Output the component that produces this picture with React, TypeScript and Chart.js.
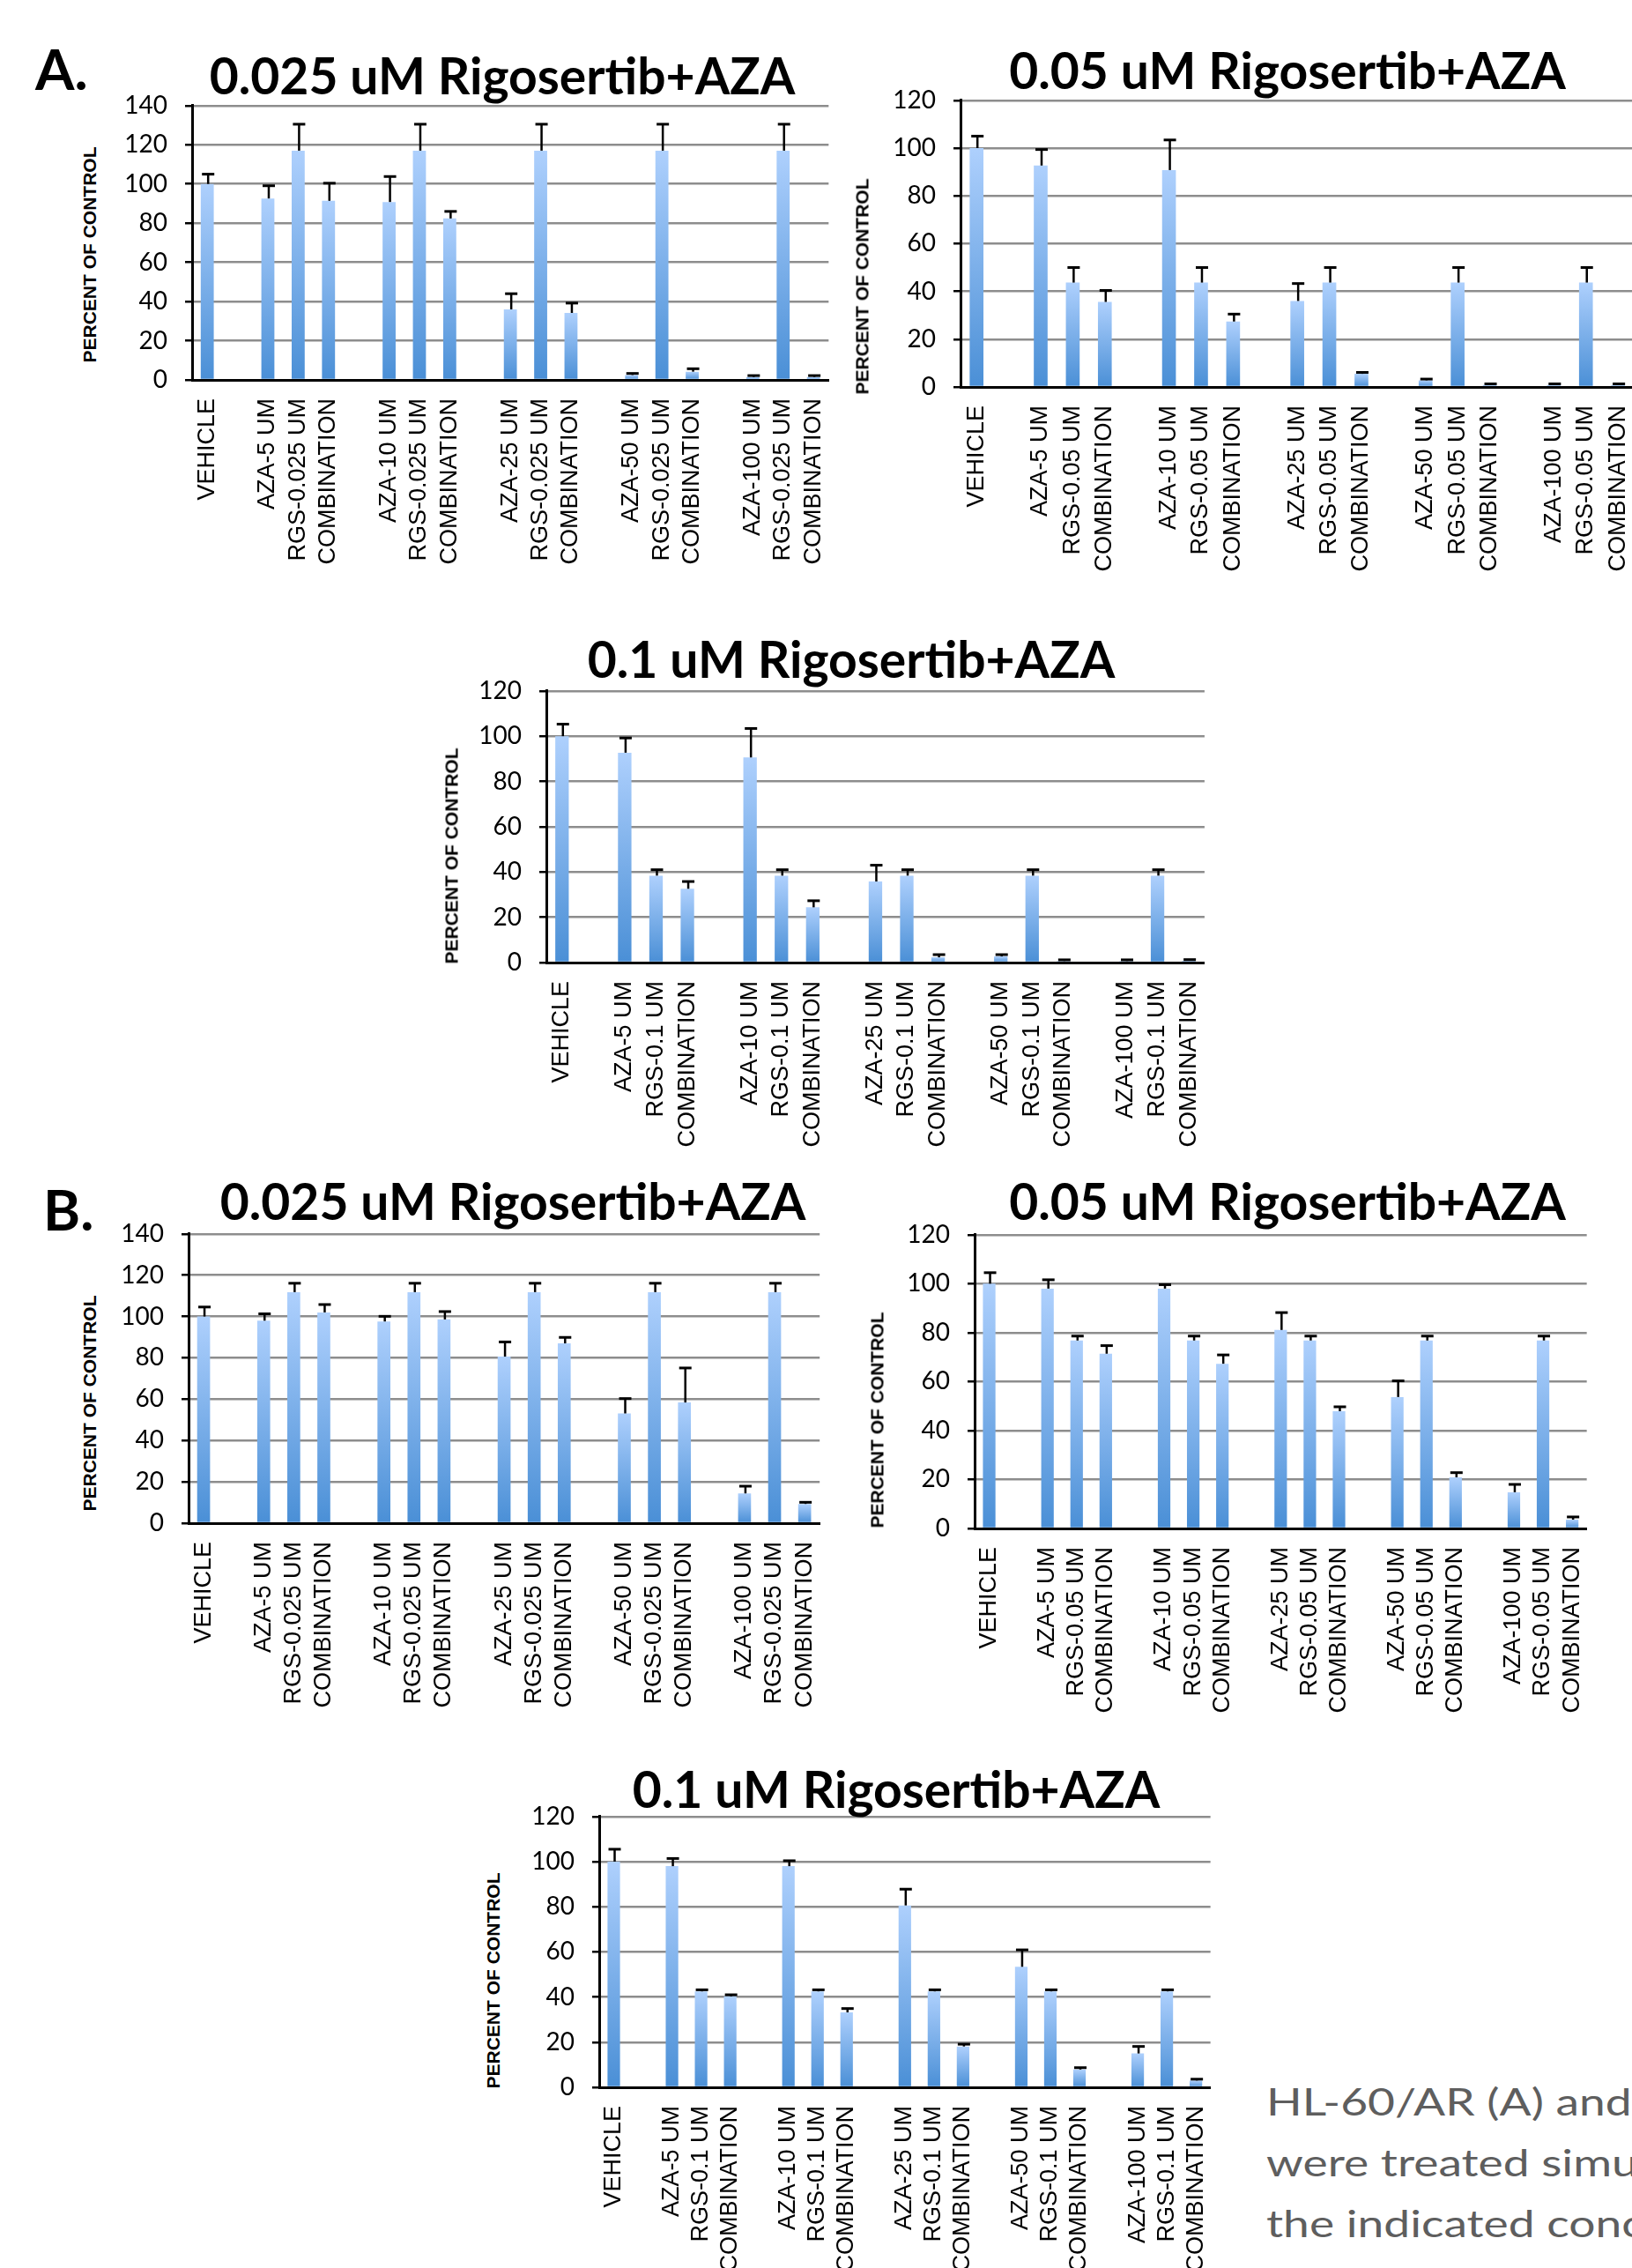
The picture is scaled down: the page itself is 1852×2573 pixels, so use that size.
import React, { useEffect, useRef } from "react";
import { Chart, registerables } from "chart.js";

Chart.register(...registerables);

// ---------- DATA ----------
const LABELS_025 = ["VEHICLE", "", "AZA-5 UM", "RGS-0.025 UM", "COMBINATION", "", "AZA-10 UM", "RGS-0.025 UM", "COMBINATION", "", "AZA-25 UM", "RGS-0.025 UM", "COMBINATION", "", "AZA-50 UM", "RGS-0.025 UM", "COMBINATION", "", "AZA-100 UM", "RGS-0.025 UM", "COMBINATION"];
const LABELS_005 = ["VEHICLE", "", "AZA-5 UM", "RGS-0.05 UM", "COMBINATION", "", "AZA-10 UM", "RGS-0.05 UM", "COMBINATION", "", "AZA-25 UM", "RGS-0.05 UM", "COMBINATION", "", "AZA-50 UM", "RGS-0.05 UM", "COMBINATION", "", "AZA-100 UM", "RGS-0.05 UM", "COMBINATION"];
const LABELS_01 = ["VEHICLE", "", "AZA-5 UM", "RGS-0.1 UM", "COMBINATION", "", "AZA-10 UM", "RGS-0.1 UM", "COMBINATION", "", "AZA-25 UM", "RGS-0.1 UM", "COMBINATION", "", "AZA-50 UM", "RGS-0.1 UM", "COMBINATION", "", "AZA-100 UM", "RGS-0.1 UM", "COMBINATION"];

const Y_TICKS_140 = [0, 20, 40, 60, 80, 100, 120, 140];
const Y_TICKS_120 = [0, 20, 40, 60, 80, 100, 120];

const A1_VALUES = [100, null, 92.6, 117, 91.4, null, 90.8, 117, 82.4, null, 36, 117, 34.2, null, 2.5, 117, 4.2, null, 1.5, 117, 1.5];
const A1_ERRORS = [5, null, 6.5, 13.5, 9, null, 13, 13.5, 3.6, null, 8, 13.5, 5, null, 0.8, 13.5, 1.5, null, 0.7, 13.5, 0.7];

const A2_VALUES = [100, null, 92.7, 43.7, 35.6, null, 90.8, 43.7, 27.4, null, 36, 43.7, 5.5, null, 2.8, 43.7, 0.8, null, 0.8, 43.7, 0.8];
const A2_ERRORS = [5, null, 6.7, 6.3, 4.8, null, 12.6, 6.3, 3.1, null, 7.3, 6.3, 0.6, null, 0.5, 6.3, 0.5, null, 0.5, 6.3, 0.5];

const A3_VALUES = [100, null, 92.7, 38.4, 32.6, null, 90.6, 38.4, 24.4, null, 35.8, 38.4, 2.3, null, 2.7, 38.4, 0.7, null, 0.7, 38.4, 0.8];
const A3_ERRORS = [5.3, null, 6.5, 2.6, 3.2, null, 12.8, 2.6, 2.9, null, 7.2, 2.6, 1.2, null, 0.8, 2.6, 0.5, null, 0.5, 2.6, 0.5];

const B1_VALUES = [100, null, 98, 111.8, 102, null, 97.6, 111.8, 98.6, null, 80.6, 111.8, 87, null, 53.1, 111.8, 58.4, null, 14.4, 111.8, 9.3];
const B1_ERRORS = [4.6, null, 3.3, 4.3, 3.8, null, 2.5, 4.3, 3.8, null, 7.1, 4.3, 2.9, null, 7.2, 4.3, 16.7, null, 3.5, 4.3, 0.8];

const B2_VALUES = [100, null, 98, 76.8, 71.4, null, 98, 76.8, 67.3, null, 81.1, 76.8, 47.9, null, 53.7, 76.8, 20.9, null, 14.8, 76.8, 3.6];
const B2_ERRORS = [4.5, null, 3.6, 1.8, 3.3, null, 1.6, 1.8, 3.6, null, 7.1, 1.8, 1.8, null, 6.6, 1.8, 1.9, null, 3.2, 1.8, 1.1];

const B3_VALUES = [100, null, 98, 42.5, 40.3, null, 98, 42.5, 33.2, null, 80.6, 42.5, 18.1, null, 53.4, 42.5, 7.9, null, 15, 42.5, 3];
const B3_ERRORS = [5.5, null, 3.4, 0.7, 0.7, null, 2.4, 0.7, 1.7, null, 7.2, 0.7, 1, null, 7.5, 0.7, 0.8, null, 3.1, 0.7, 0.6];

const TITLE_025 = "0.025 uM Rigosertib+AZA";
const TITLE_005 = "0.05 uM Rigosertib+AZA";
const TITLE_01 = "0.1 uM Rigosertib+AZA";
const Y_TITLE = "PERCENT OF CONTROL";
const CAPTION_LINES = ["HL-60/AR (A) and", "were treated simultaneously", "the indicated concentrations"];

// ---------- LAYOUT (positions / sizes only) ----------
const Y_W = 100;
const PAD_T = 20;
const PAD_R = 20;
const X_H = 250;

type Panel = {
  labels: string[];
  values: (number | null)[];
  errors: (number | null)[];
  ticks: number[];
  title: string;
  plot: [number, number, number, number]; // left, top, right, bottom
  titlePos: [number, number]; // center x, baseline y
  yTitlePos: [number, number]; // center x, center y
};

const PANELS: Panel[] = [
  { labels: LABELS_025, values: A1_VALUES, errors: A1_ERRORS, ticks: Y_TICKS_140, title: TITLE_025, plot: [218, 120, 940, 431], titlePos: [570, 108], yTitlePos: [101, 289] },
  { labels: LABELS_005, values: A2_VALUES, errors: A2_ERRORS, ticks: Y_TICKS_120, title: TITLE_005, plot: [1090, 114, 1854, 439], titlePos: [1461, 102], yTitlePos: [978, 325] },
  { labels: LABELS_01, values: A3_VALUES, errors: A3_ERRORS, ticks: Y_TICKS_120, title: TITLE_01, plot: [620, 784, 1367, 1092], titlePos: [966, 770], yTitlePos: [512, 971] },
  { labels: LABELS_025, values: B1_VALUES, errors: B1_ERRORS, ticks: Y_TICKS_140, title: TITLE_025, plot: [214, 1400, 930, 1728], titlePos: [582, 1385], yTitlePos: [101, 1592] },
  { labels: LABELS_005, values: B2_VALUES, errors: B2_ERRORS, ticks: Y_TICKS_120, title: TITLE_005, plot: [1106, 1401, 1800, 1734], titlePos: [1461, 1385], yTitlePos: [995, 1611] },
  { labels: LABELS_01, values: B3_VALUES, errors: B3_ERRORS, ticks: Y_TICKS_120, title: TITLE_01, plot: [680, 2061, 1373, 2368], titlePos: [1017, 2052], yTitlePos: [559, 2247] },
];

const errorBarPlugin = {
  id: "errorBars",
  afterDatasetsDraw(chart: any, _args: any, opts: any) {
    const errs: (number | null)[] = opts.errors || [];
    const meta = chart.getDatasetMeta(0);
    const ys = chart.scales.y;
    const data = chart.data.datasets[0].data;
    const ctx = chart.ctx;
    ctx.save();
    ctx.strokeStyle = "#000";
    meta.data.forEach((bar: any, i: number) => {
      const v = data[i];
      const e = errs[i];
      if (v == null || e == null) return;
      const x = bar.x + 1;
      const yTop = ys.getPixelForValue(v);
      const yErr = ys.getPixelForValue(v + e);
      ctx.lineWidth = 2.5;
      ctx.beginPath();
      ctx.moveTo(x, yTop);
      ctx.lineTo(x, yErr);
      ctx.stroke();
      ctx.lineWidth = 3;
      ctx.beginPath();
      ctx.moveTo(x - 7, yErr);
      ctx.lineTo(x + 7, yErr);
      ctx.stroke();
    });
    ctx.restore();
  },
};

function makeConfig(p: Panel) {
  const yMax = p.ticks[p.ticks.length - 1];
  return {
    type: "bar",
    data: {
      labels: p.labels,
      datasets: [
        {
          data: p.values,
          barPercentage: 0.43,
          categoryPercentage: 1,
          borderWidth: 0,
          backgroundColor: (c: any) => {
            const ch = c.chart;
            const v = c.raw;
            if (!ch.chartArea || v == null) return "#6fa6e6";
            const y0 = ch.scales.y.getPixelForValue(0);
            const y1 = ch.scales.y.getPixelForValue(v);
            if (Math.abs(y0 - y1) < 0.5) return "#8fbcf2";
            const g = ch.ctx.createLinearGradient(0, y1, 0, y0);
            g.addColorStop(0, "#aed0fd");
            g.addColorStop(1, "#4a8fd6");
            return g;
          },
        },
      ],
    },
    options: {
      responsive: false,
      maintainAspectRatio: false,
      animation: false,
      layout: { padding: { top: PAD_T, right: PAD_R, left: 0, bottom: 0 } },
      plugins: {
        legend: { display: false },
        title: { display: false },
        tooltip: { enabled: false },
        errorBars: { errors: p.errors },
      },
      scales: {
        x: {
          type: "category",
          z: 1,
          grid: { display: false, drawTicks: false },
          border: { display: true, color: "#000", width: 3 },
          ticks: {
            autoSkip: false,
            minRotation: 90,
            maxRotation: 90,
            padding: 21,
            color: "#000",
            font: { family: "Liberation Sans, Arial, sans-serif", size: 27 },
          },
          afterFit: (s: any) => {
            s.height = X_H;
          },
        },
        y: {
          min: 0,
          max: yMax,
          afterBuildTicks: (s: any) => {
            s.ticks = p.ticks.map((v) => ({ value: v }));
          },
          grid: {
            color: (c: any) => (c.tick && c.tick.value === 0 ? "rgba(0,0,0,0)" : "#8d8d8d"),
            lineWidth: 2.5,
            drawTicks: true,
            tickLength: 8,
            tickColor: "#000",
            tickWidth: 2.5,
          },
          border: { display: true, color: "#000", width: 3 },
          ticks: {
            padding: 20,
            color: "#000",
            font: { family: "Lato", size: 28 },
          },
          afterFit: (s: any) => {
            s.width = Y_W;
          },
        },
      },
    },
    plugins: [errorBarPlugin],
  };
}

function sizeCanvas(c: HTMLCanvasElement, w: number, h: number) {
  c.width = Math.round(w);
  c.height = Math.round(h);
  c.style.width = Math.round(w) + "px";
  c.style.height = Math.round(h) + "px";
}

function BarPanel({ p }: { p: Panel }) {
  const ref = useRef<HTMLCanvasElement | null>(null);
  const [l, t, r, b] = p.plot;
  const width = Y_W + (r - l) + PAD_R;
  const height = PAD_T + (b - t) + X_H;

  useEffect(() => {
    const canvas = ref.current;
    if (!canvas) return;
    sizeCanvas(canvas, width, height);
    let chart = new Chart(canvas, makeConfig(p) as any);
    const ca = chart.chartArea;
    const newW = width - (ca.right - ca.left - (r - l));
    const newH = height - (ca.bottom - ca.top - (b - t));
    chart.destroy();
    sizeCanvas(canvas, newW, newH);
    chart = new Chart(canvas, makeConfig(p) as any);
    const ca2 = chart.chartArea;
    canvas.style.left = l - ca2.left + "px";
    canvas.style.top = t - ca2.top + "px";
    return () => chart.destroy();
  }, []);

  return (
    <canvas
      ref={ref}
      width={width}
      height={height}
      style={{ position: "absolute", left: l - Y_W, top: t - PAD_T, width, height }}
    />
  );
}

function Title({ text, cx, baseline, size }: { text: string; cx: number; baseline: number; size: number }) {
  return (
    <div
      style={{
        position: "absolute",
        left: cx - 600,
        width: 1200,
        top: baseline - 0.887 * size,
        textAlign: "center",
        font: `bold ${size}px Lato`,
        lineHeight: 1,
        whiteSpace: "nowrap",
        color: "#000",
      }}
    >
      {text}
    </div>
  );
}

function YTitle({ cx, cy }: { cx: number; cy: number }) {
  return (
    <div
      style={{
        position: "absolute",
        left: cx,
        top: cy,
        transform: "translate(-50%, -50%) rotate(-90deg)",
        font: "bold 21px 'Liberation Sans'",
        lineHeight: 1,
        whiteSpace: "nowrap",
        color: "#000",
      }}
    >
      {Y_TITLE}
    </div>
  );
}

export default function App() {
  return (
    <div
      style={{
        position: "absolute",
        left: 0,
        top: 0,
        width: 1852,
        height: 2573,
        overflow: "hidden",
        background: "#fff",
      }}
    >
      {PANELS.map((p, i) => (
        <BarPanel key={"c" + i} p={p} />
      ))}
      {PANELS.map((p, i) => (
        <Title key={"t" + i} text={p.title} cx={p.titlePos[0]} baseline={p.titlePos[1]} size={57} />
      ))}
      {PANELS.map((p, i) => (
        <YTitle key={"y" + i} cx={p.yTitlePos[0]} cy={p.yTitlePos[1]} />
      ))}
      <div style={{ position: "absolute", left: 40, top: 103 - 0.887 * 64, font: "bold 64px Lato", lineHeight: 1 }}>A.</div>
      <div style={{ position: "absolute", left: 49, top: 1397 - 0.887 * 64, font: "bold 64px Lato", lineHeight: 1 }}>B.</div>
      {CAPTION_LINES.map((line, i) => (
        <div
          key={"cap" + i}
          style={{
            position: "absolute",
            left: 1437,
            top: 2400 + i * 69 - 0.887 * 42,
            font: "42px Lato",
            lineHeight: 1,
            whiteSpace: "nowrap",
            color: "#5e5e5e",
            transform: "scaleX(1.27)",
            transformOrigin: "0 0",
          }}
        >
          {line}
        </div>
      ))}
    </div>
  );
}
